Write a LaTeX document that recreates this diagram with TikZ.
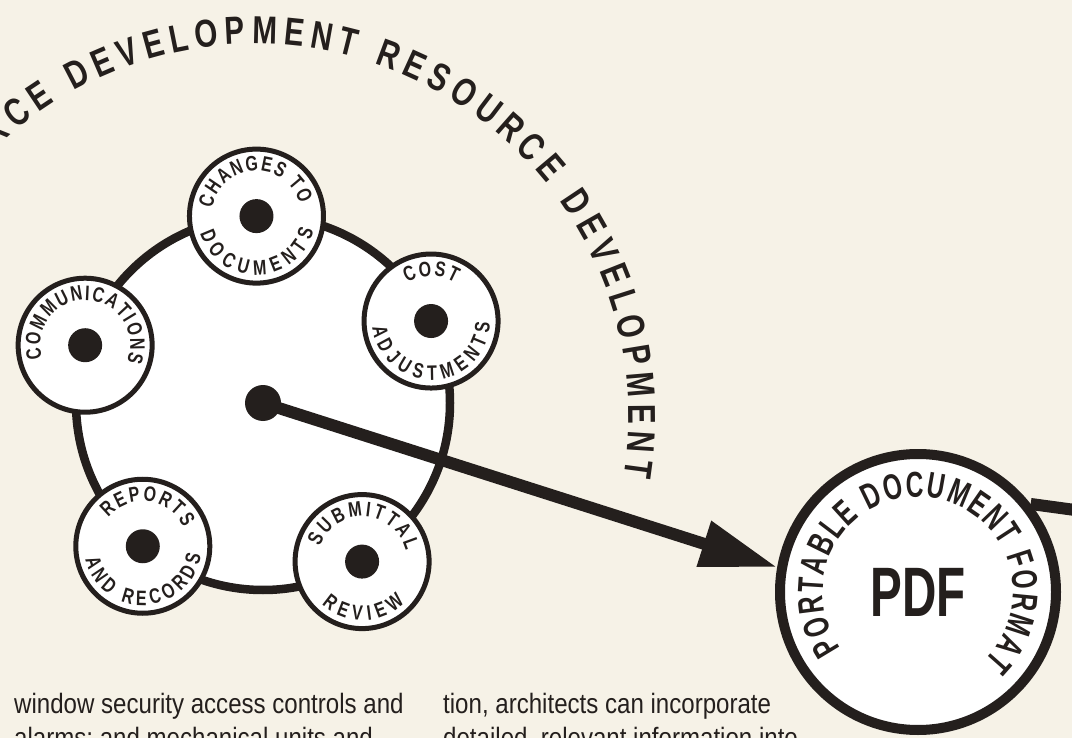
\documentclass[tikz,border=0pt]{standalone}
\usepackage{fontspec}
\setmainfont{Liberation Sans}[FakeStretch=0.86]
\newfontfamily\capsfamily{Liberation Sans}[FakeStretch=0.76]
\newfontfamily\pdffamily{Liberation Sans}[FakeStretch=0.68]
\usetikzlibrary{calc,decorations.text,arrows.meta}

\definecolor{paper}{RGB}{246,242,231}
\definecolor{ink}{RGB}{36,31,29}

\newcommand{\bigarcfont}{\capsfamily\bfseries\fontsize{39}{40}\selectfont}
\newcommand{\ringfont}{\capsfamily\bfseries\fontsize{21}{22}\selectfont}
\newcommand{\pdfringfont}{\pdffamily\bfseries\fontsize{36}{38}\selectfont}
\newcommand{\pdfletters}{\pdffamily\bfseries\fontsize{70}{70}\selectfont}

\tikzset{
  wheel/.style={circle, draw=ink, line width=8.5pt, fill=white, inner sep=0pt, minimum size=374pt},
  station/.style={circle, draw=ink, line width=5pt, fill=white, inner sep=0pt, minimum size=134pt},
  hubdot/.style={circle, fill=ink, inner sep=0pt, minimum size=36pt},
  pdfring/.style={circle, draw=ink, line width=10pt, fill=white, inner sep=0pt, minimum size=276pt, font=\pdfletters, text=ink},
  ringtext/.style={decorate, decoration={text along path, text align=fit to path, text color=ink, text={|\ringfont|#1}}},
  bodytext/.style={anchor=base west, inner sep=0pt, text=ink, font=\fontsize{28}{34}\selectfont},
}

\begin{document}
\begin{tikzpicture}[x=1pt, y=1pt]
  % page and paper
  \useasboundingbox (0,0) rectangle (1072,-738);
  \clip (0,0) rectangle (1072,-738);
  \fill[paper] (0,0) rectangle (1072,-738);
  % wheel of five stations round the hub
  \coordinate (mid) at (263,-403);
  \node[wheel] (wheel) at (mid) {};
  \foreach \name/\ang in {cost/26, chg/92, comm/162, rep/230, sub/302} {
    \node[station] (\name) at ($(mid)+(\ang:187)$) {};
    \fill[ink] (\name.center) circle (17);
  }
  % station labels: upper arc runs clockwise (r=45), lower arc anticlockwise (r=59)
  \path[shift={(chg.center)}, ringtext={CHANGES TO}] (170:45) arc[start angle=170, end angle=16, radius=45];
  \path[shift={(chg.center)}, ringtext={DOCUMENTS}] (197:59) arc[start angle=197, end angle=346, radius=59];
  \path[shift={(comm.center)}, ringtext={COMMUNICATIONS}] (197:45) arc[start angle=197, end angle=-22, radius=45];
  \path[shift={(cost.center)}, ringtext={COST}] (122:45) arc[start angle=122, end angle=58, radius=45];
  \path[shift={(cost.center)}, ringtext={ADJUSTMENTS}] (186:59) arc[start angle=186, end angle=358, radius=59];
  \path[shift={(rep.center)}, ringtext={REPORTS}] (140:45) arc[start angle=140, end angle=25, radius=45];
  \path[shift={(rep.center)}, ringtext={AND RECORDS}] (193:59) arc[start angle=193, end angle=351, radius=59];
  \path[shift={(sub.center)}, ringtext={SUBMITTAL}] (160:45) arc[start angle=160, end angle=14, radius=45];
  \path[shift={(sub.center)}, ringtext={REVIEW}] (227:59) arc[start angle=227, end angle=316, radius=59];
  % outer running title
  \coordinate (arcmid) at (255,-418);
  \path[shift={(arcmid)}, decorate, decoration={text along path, text align=fit to path, text color=ink,
      text={|\bigarcfont|RESOURCE DEVELOPMENT RESOURCE DEVELOPMENT}}]
    (155:374) arc[start angle=155, end angle=-9, radius=374];
  % pdf disc
  \node[pdfring] (pdf) at (918,-592) {PDF};
  \path[shift={(pdf.center)}, decorate, decoration={text along path, text align=fit to path, text color=ink,
      text={|\pdfringfont|PORTABLE DOCUMENT FORMAT}}]
    (216:95) arc[start angle=216, end angle=-46, radius=95];
  % hub and the arrow to the pdf disc
  \node[hubdot] (hub) at (mid) {};
  \coordinate (tip) at (pdf.170);
  \draw[ink, line width=12pt, -{Triangle[length=77pt, width=45pt]}] (hub.center) -- (tip);
  \coordinate (out) at ($(pdf.center)+(20:220)$);
  \draw[ink, line width=12pt] (pdf.38) -- (out);
  % body copy below
  \node[bodytext] (win1) at (14,-713) {window security access controls and};
  \node[bodytext] (win2) at ([yshift=-34pt]win1.base west) {alarms; and mechanical units and};
  \node[bodytext] (tion1) at (443,-713) {tion, architects can incorporate};
  \node[bodytext] (tion2) at ([yshift=-34pt]tion1.base west) {detailed, relevant information into};
\end{tikzpicture}
\end{document}
